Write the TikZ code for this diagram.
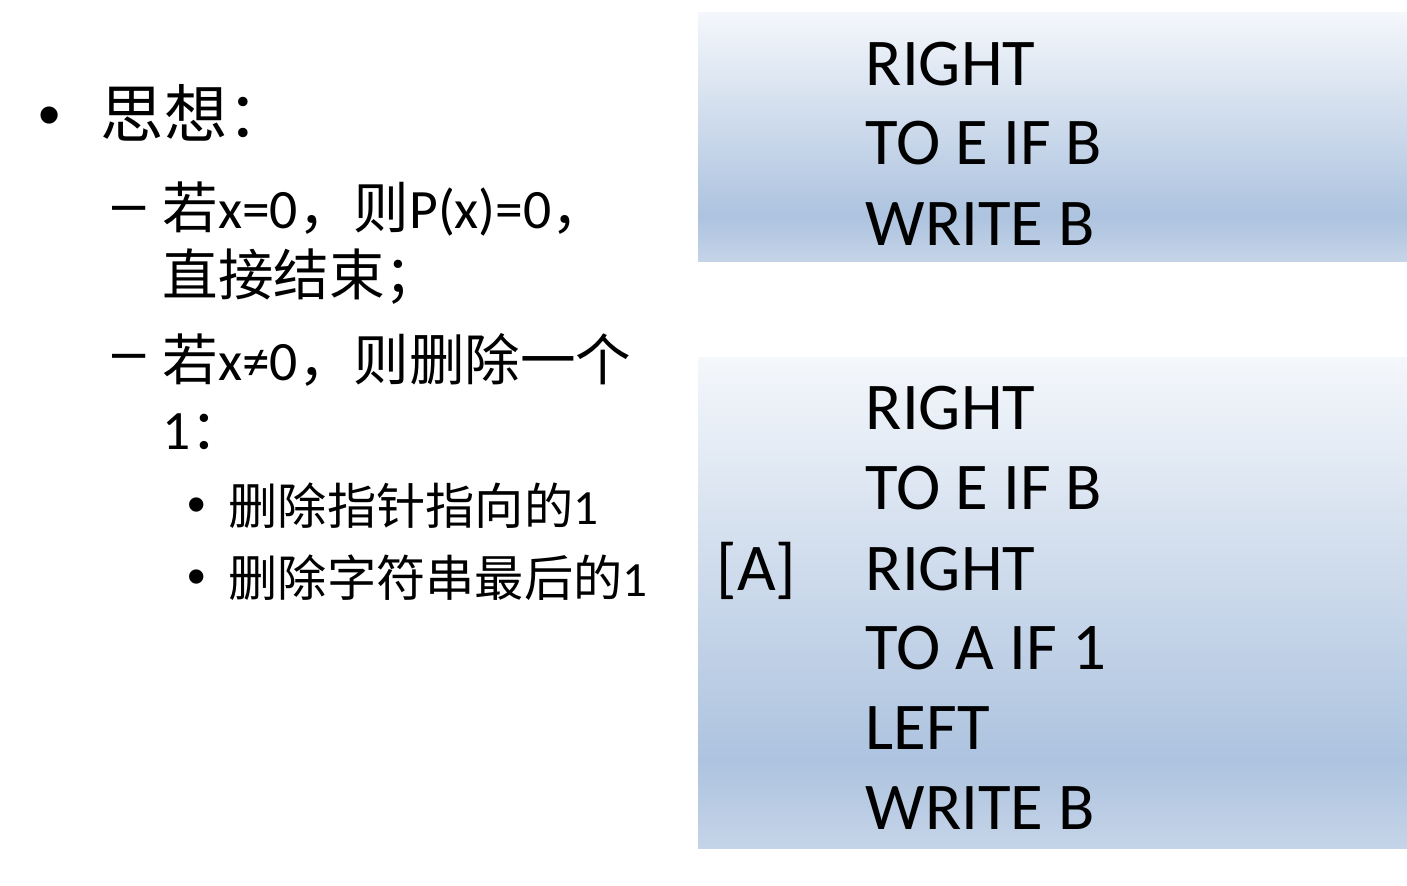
\documentclass[tikz,border=0pt]{standalone}
\usepackage{fontspec}
\setmainfont{Carlito}
\newfontfamily\cjk{Noto Sans CJK SC}
\newfontfamily\arial{Liberation Sans}
\definecolor{boxtop}{HTML}{F4F7FB}
\definecolor{boxmid}{HTML}{ADC3DF}
\definecolor{boxlow}{HTML}{C5D4E8}
\pgfdeclareverticalshading{boxfill}{100bp}{color(0bp)=(boxlow); color(25bp)=(boxlow); color(34bp)=(boxmid); color(75bp)=(boxtop); color(100bp)=(boxtop)}
\tikzset{
  cmd/.style={anchor=base west,inner sep=0pt,font=\fontsize{19}{19}\selectfont},
  lvlone/.style={anchor=base west,inner sep=0pt,font=\fontsize{18}{18}\selectfont},
  lvltwo/.style={anchor=base west,inner sep=0pt,font=\fontsize{15.8}{16}\selectfont},
  lvlthree/.style={anchor=base west,inner sep=0pt,font=\fontsize{14}{14}\selectfont},
  mark/.style={anchor=center,inner sep=0pt,font=\arial\fontsize{#1}{#1}\selectfont}
}
\begin{document}
\begin{tikzpicture}[x=0.01cm,y=-0.01cm]
  \useasboundingbox (0,0) rectangle (1407,885);
  % code boxes
  \shade[shading=boxfill] (698,13) rectangle (1407,261);
  \shade[shading=boxfill] (698,357) rectangle (1407,848);
  \foreach\y/\t in {86/RIGHT,165/TO E IF B,245/WRITE B}{
    \node[cmd] (up\y) at (865,\y) {\t};
  }
  \foreach\y/\t in {429/RIGHT,509/TO E IF B,590/RIGHT,669/TO A IF 1,749/LEFT,829/WRITE B}{
    \node[cmd] (lo\y) at (865,\y) {\t};
  }
  \node[cmd] (label) at (716,590) {[A]};
  % idea list
  \node[mark=18] (dot) at (50,122) {•};
  \node[lvlone] (idea) at (100,138) {\cjk 思想：};
  \foreach\y in {215,363}{
    \node[mark=17] (dash\y) at (129,\y) {–};
  }
  \node[lvltwo] (zeroa) at (162,228) {{\cjk 若}x=0{\cjk ，则}P(x)=0{\cjk ，}};
  \node[lvltwo] (zerob) at (162,295) {\cjk 直接结束；};
  \node[lvltwo] (nza) at (162,380) {{\cjk 若}x≠0{\cjk ，则删除一个}};
  \node[lvltwo] (nzb) at (162,449) {1{\cjk ：}};
  \foreach\y in {510,582}{
    \node[mark=15] (dot\y) at (197,\y) {•};
  }
  \node[lvlthree] (dela) at (228,524) {{\cjk 删除指针指向的}1};
  \node[lvlthree] (delb) at (228,596) {{\cjk 删除字符串最后的}1};
\end{tikzpicture}
\end{document}
